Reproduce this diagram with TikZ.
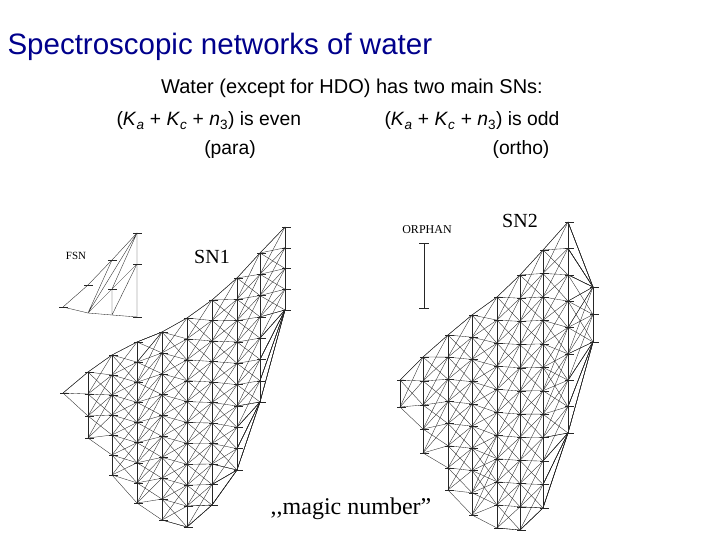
\documentclass[tikz,border=0pt]{standalone}
\usepackage{fontspec}
\setmainfont{Liberation Sans}
\newfontfamily\timesfont{Liberation Serif}
\definecolor{titleblue}{RGB}{0,0,140}
\tikzset{
  link/.style={line width=0.35pt, black!85},
  tick/.style={line width=0.4pt, black!85},
  netlabel/.style={font=\timesfont, inner sep=0pt}
}
% net from arrays \netX \netT \netB \netN ; #1 name, #2 last column
\newcommand{\buildnet}[2]{%
  \foreach \c in {0,...,#2} {
    \pgfmathsetmacro\xc{\netX[\c]}
    \pgfmathsetmacro\tc{\netT[\c]}
    \pgfmathsetmacro\bc{\netB[\c]}
    \pgfmathtruncatemacro\nc{\netN[\c]}
    \foreach \k in {0,...,\nc} {
      \pgfmathsetmacro\yk{\tc+\k*(\bc-\tc)/max(\nc,1)}
      \coordinate (#1-\c-\k) at (\xc,\yk);
      \draw[tick] ([xshift=-3pt]#1-\c-\k) -- ([xshift=6pt]#1-\c-\k);
    }
    \draw[link] (#1-\c-0) -- (#1-\c-\nc);
  }
  \foreach \c in {1,...,#2} {
    \pgfmathtruncatemacro\p{\c-1}
    \pgfmathsetmacro\tp{\netT[\p]}
    \pgfmathsetmacro\bp{\netB[\p]}
    \pgfmathtruncatemacro\np{\netN[\p]}
    \pgfmathsetmacro\tc{\netT[\c]}
    \pgfmathsetmacro\bc{\netB[\c]}
    \pgfmathtruncatemacro\nc{\netN[\c]}
    \pgfmathsetmacro\sc{max(\bc-\tc,1)/max(\nc,1)}
    \foreach \k in {0,...,\np} {
      \pgfmathsetmacro\yk{\tp+\k*(\bp-\tp)/max(\np,1)}
      \foreach \d in {-2,-1,0,1} {
        \pgfmathtruncatemacro\jj{min(max(round((\yk-\tc)/\sc)+\d,0),\nc)}
        \draw[link] (#1-\p-\k) -- (#1-\c-\jj);
      }
    }
  }}
\begin{document}
\begin{tikzpicture}[x=1pt, y=-1pt]
  \useasboundingbox[fill=white] (0,0) rectangle (720,540);
  % texts
  \node[anchor=west, text=titleblue, font=\fontsize{29.5}{32}\selectfont] (title) at (4,47) {Spectroscopic networks of water};
  \node[font=\fontsize{20}{23}\selectfont] (sub) at (352,88) {Water (except for HDO) has two main SNs:};
  \node[anchor=west, font=\fontsize{19.3}{22}\selectfont] (even) at (113,121) {(\textit{K}\textsubscript{\textit{a}} + \textit{K}\textsubscript{\textit{c}} + \textit{n}\textsubscript{3}) is even};
  \node[font=\fontsize{19.3}{22}\selectfont] (para) at (230,150) {(para)};
  \node[anchor=west, font=\fontsize{19.3}{22}\selectfont] (odd) at (381,121) {(\textit{K}\textsubscript{\textit{a}} + \textit{K}\textsubscript{\textit{c}} + \textit{n}\textsubscript{3}) is odd};
  \node[font=\fontsize{19.3}{22}\selectfont] (ortho) at (521,150) {(ortho)};
  \node[netlabel, font=\timesfont\fontsize{20}{22}\selectfont] (sn1) at (212,257) {SN1};
  \node[netlabel, font=\timesfont\fontsize{20}{22}\selectfont] (sn2) at (520,221) {SN2};
  \node[netlabel, font=\timesfont\fontsize{11}{12}\selectfont] (fsn) at (76,256) {FSN};
  \node[netlabel, font=\timesfont\fontsize{12}{13}\selectfont] (orphan) at (427,230) {ORPHAN};
  \node[netlabel, font=\timesfont\fontsize{24}{26}\selectfont] (magic) at (351,509) {,,magic number”};
  % orphan level pair
  \coordinate (orph-a) at (424,243);
  \coordinate (orph-b) at (424,308);
  \draw[link] (orph-a) -- (orph-b);
  \draw[tick] ([xshift=-5pt]orph-a) -- ([xshift=5pt]orph-a);
  \draw[tick] ([xshift=-5pt]orph-b) -- ([xshift=5pt]orph-b);
  % FSN
  \coordinate (f-0) at (63,307);
  \coordinate (f-1a) at (88,285); \coordinate (f-1b) at (88,313);
  \coordinate (f-2a) at (112,260); \coordinate (f-2b) at (112,289); \coordinate (f-2c) at (112,315);
  \coordinate (f-3a) at (137,233); \coordinate (f-3b) at (137,264); \coordinate (f-3c) at (137,317);
  \draw[link] (f-0) -- (f-1a) -- (f-2a) -- (f-3a) -- (f-3c) -- (f-2c) -- (f-1b) -- (f-0);
  \draw[link] (f-1b) -- (f-2a) (f-1b) -- (f-3a) (f-1b) -- (f-2b) -- (f-3a)
              (f-2b) -- (f-2c) (f-2c) -- (f-3b) (f-2b) -- (f-3b);
  \foreach \p in {f-0,f-1a,f-2a,f-2b,f-3a,f-3b,f-3c}
    \draw[tick] ([xshift=-4pt]\p) -- ([xshift=5pt]\p);
  % SN1
  \def\netX{{63,88,112,137,162,187,212,237,260,285}}
  \def\netT{{393,372,355,342,332,318,300,278,253,227}}
  \def\netB{{393,438,475,503,520,527,505,470,402,310}}
  \def\netN{{0,3,6,8,9,10,10,9,7,4}}
  \buildnet{a}{9}
  % SN2
  \def\netX{{400,423,448,472,497,520,543,568,593}}
  \def\netT{{380,357,335,315,297,275,250,222,287}}
  \def\netB{{407,453,490,515,528,530,508,433,342}}
  \def\netN{{1,4,7,9,10,11,11,8,2}}
  \buildnet{b}{8}
\end{tikzpicture}
\end{document}
